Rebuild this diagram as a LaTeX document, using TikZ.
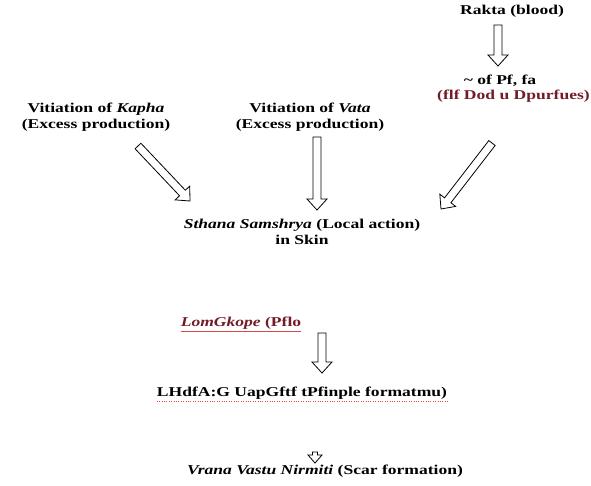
\documentclass[tikz,border=0pt]{standalone}
\usepackage{fontspec}
\setmainfont{Liberation Serif}[FakeStretch=1.3]
\usetikzlibrary{calc}
\definecolor{garble}{RGB}{115,28,40}
\definecolor{squig}{RGB}{220,70,70}
\tikzset{
  lbl/.style={font=\fontsize{13.5}{16}\selectfont\bfseries, align=center, inner sep=0pt, text=black},
  blockar/.style={draw=black, line width=0.8pt, fill=white, line join=miter},
}
% #1 from, #2 to, #3 half shaft width, #4 half head width, #5 head length
\newcommand{\blockarrow}[5]{%
  \coordinate (#1-#2-n) at ($(#2)!#5!(#1)$);
  \draw[blockar] ($(#1)!#3!90:(#2)$) -- ($(#1-#2-n)!#3!-90:(#1)$) -- ($(#1-#2-n)!#4!-90:(#1)$) -- (#2)
    -- ($(#1-#2-n)!#4!90:(#1)$) -- ($(#1-#2-n)!#3!90:(#1)$) -- ($(#1)!#3!-90:(#2)$) -- cycle;}
\begin{document}
\begin{tikzpicture}[x=1pt,y=-1pt]
\useasboundingbox (0,0) rectangle (591,485);
% texts
\node[lbl, anchor=base] (rakta) at (512,14) {Rakta (blood)};
\node[lbl] (pf) at (500,81) {\textasciitilde{} of Pf, fa};
\node[lbl, text=garble, anchor=east] (flf) at (590,96) {(flf Dod u Dpurfues)};
\node[lbl] (kapha) at (96,117) {Vitiation of \textit{Kapha}\\(Excess production)};
\node[lbl] (vata) at (310,117) {Vitiation of \textit{Vata}\\(Excess production)};
\node[lbl] (sthana) at (302,232) {\textit{Sthana Samshrya} (Local action)\\in Skin};
\node[lbl, text=garble] (lom) at (241,323) {\textit{LomGkope} (Pflo};
\node[lbl] (lhd) at (302,393) {LHdfA:G UapGftf tPfinple formatmu)};
\node[lbl] (vrana) at (325,471) {\textit{Vrana Vastu Nirmiti} (Scar formation)};
% squiggle underlines
\draw[squig, line width=0.6pt] ([yshift=-2pt]lom.south west) -- ([yshift=-2pt]lom.south east);
\draw[squig, line width=0.4pt, dotted] ([yshift=-2pt]lhd.south west) -- ([yshift=-2pt]lhd.south east);
% arrow end points
\coordinate (ra1) at (498,25);
\coordinate (ra2) at (498,66);
\coordinate (ka1) at (138,146);
\coordinate (ka2) at (190,201);
\coordinate (va1) at (317,137);
\coordinate (va2) at (317,210);
\coordinate (rt1) at (492,143);
\coordinate (rt2) at (441,209);
\coordinate (lo1) at (322,333);
\coordinate (lo2) at (322,373);
\coordinate (sm1) at (315,452);
\coordinate (sm2) at (315,463);
\blockarrow{ra1}{ra2}{4pt}{10pt}{11pt}
\blockarrow{ka1}{ka2}{4pt}{10pt}{11pt}
\blockarrow{va1}{va2}{4pt}{10pt}{11pt}
\blockarrow{rt1}{rt2}{4pt}{10pt}{11pt}
\blockarrow{lo1}{lo2}{4pt}{10pt}{11pt}
\blockarrow{sm1}{sm2}{2.5pt}{7pt}{8pt}
\end{tikzpicture}
\end{document}
